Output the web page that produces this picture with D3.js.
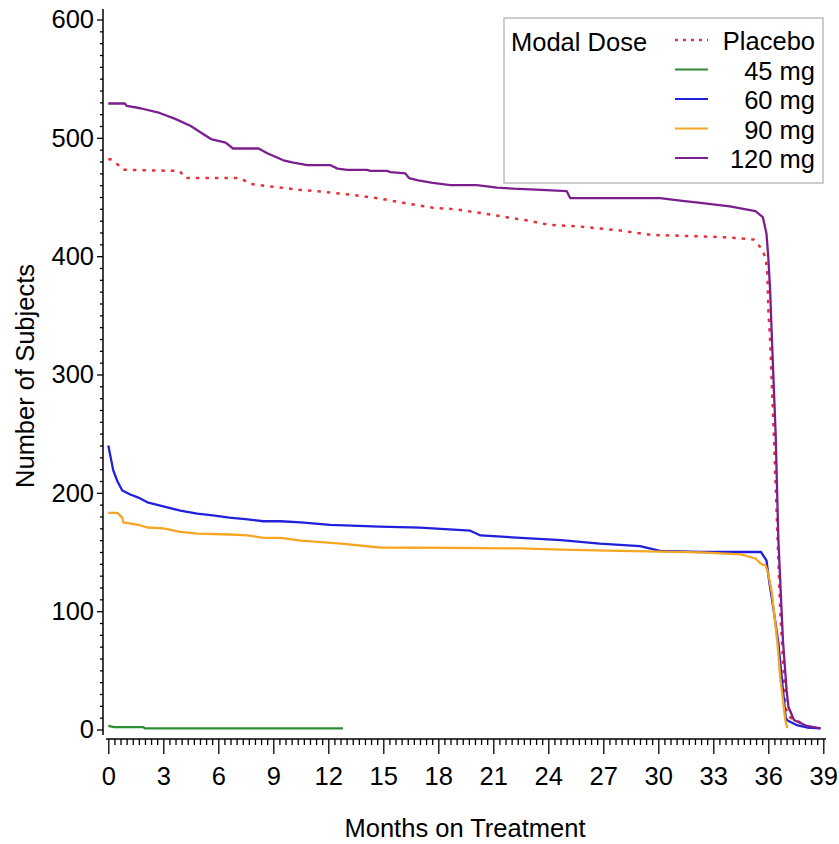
<!DOCTYPE html>
<html>
<head>
<meta charset="utf-8">
<script src="https://cdn.jsdelivr.net/npm/d3@7"></script>
<style>
  html, body { margin: 0; padding: 0; background: #fff; }
  svg text { font-family: "Liberation Sans", Arial, sans-serif; fill: #000; }
</style>
</head>
<body>
<svg id="chart" width="839" height="844"></svg>
<script>
// ---------- data ----------
const seriesNames = ["Placebo", "45 mg", "60 mg", "90 mg", "120 mg"];
const xTickLabels = [0, 3, 6, 9, 12, 15, 18, 21, 24, 27, 30, 33, 36, 39];
const yTickLabels = [0, 100, 200, 300, 400, 500, 600];

const placeboMonths = [0, 0.1, 0.55, 0.8, 3.9, 4.2, 7.2, 7.75, 8.8, 10.5, 11.6, 13.2, 14.7, 15.4, 16.3, 17.7, 19.0, 20.5, 21.8, 22.9, 24.0, 25.75, 27.9, 29.6, 31.75, 33.9, 35.2, 35.6, 35.85, 35.95, 36.0, 36.1, 36.3, 36.65, 36.95, 37.2, 38.0];
const placeboCounts = [482, 482, 477, 473, 472, 466, 466, 461, 459, 456, 454.6, 452, 449, 447, 444.5, 441, 439.5, 436, 432.7, 430, 426.6, 425, 421.7, 418, 417, 415.8, 414, 407, 399, 385, 356, 329, 250, 100, 18, 10, 4];

const mg45Months = [0, 0.3, 1.9, 2.0, 12.8];
const mg45Counts = [3, 2, 2, 1, 1];

const mg60Months = [0, 0.27, 0.49, 0.76, 1.2, 1.64, 2.13, 3.0, 3.93, 4.85, 5.7, 6.6, 7.6, 8.45, 9.4, 10.5, 12.1, 14.8, 17.0, 19.75, 20.3, 22.5, 24.7, 26.8, 29.0, 30.1, 32.3, 35.6, 35.9, 36.05, 36.3, 36.55, 36.75, 36.95, 37.05, 37.6, 38.1, 38.85];
const mg60Counts = [240, 219, 210, 202, 198.6, 196, 192, 188.5, 185, 182.5, 181, 179, 177.5, 176, 176, 175, 173, 171.5, 170.6, 168, 164, 162, 160, 157, 155, 151, 150, 150, 143, 125, 100, 73, 41, 10, 7.6, 3.4, 1.7, 1];

const mg90Months = [0, 0.5, 0.76, 0.82, 1.64, 2.13, 3.0, 3.93, 4.85, 6.65, 7.6, 8.45, 9.4, 10.5, 12.7, 14.8, 18.7, 22.5, 24.7, 27.9, 32.3, 34.5, 35.3, 35.6, 35.85, 36.0, 36.2, 36.3, 36.5, 36.65, 36.8, 36.93, 37.04];
const mg90Counts = [183, 183, 179, 175, 173, 170.7, 170, 167, 165.6, 164.8, 164, 162, 162, 159.7, 157, 153.8, 153.5, 153, 152, 151, 149.6, 148, 144.5, 140, 138.6, 131.8, 115, 100.6, 72.7, 44, 24.5, 7.6, 1];

const mg120Months = [0, 0.9, 1.0, 1.75, 2.8, 3.65, 4.5, 5.0, 5.6, 6.4, 6.8, 8.2, 8.67, 9.55, 10.1, 10.86, 12.1, 12.5, 13.04, 14.1, 14.3, 15.2, 15.4, 16.2, 16.4, 16.9, 17.7, 18.66, 20.1, 21.2, 22.1, 23.6, 25.0, 25.2, 30.1, 31.2, 32.3, 33.9, 35.3, 35.7, 35.9, 36.0, 36.1, 36.2, 36.4, 36.55, 36.8, 37.0, 37.1, 37.4, 38.1, 38.85];
const mg120Counts = [529, 529, 527, 525, 521, 516, 510, 505, 499, 496, 491, 491, 487, 481, 479, 477, 477, 474, 473, 473, 472, 472, 471, 470, 466, 464, 462, 460, 460, 458, 457, 456, 455, 449, 449, 447, 445, 442, 438, 433, 419, 399, 371, 329, 250, 160, 75, 33, 19, 8, 3, 1];

const seriesColors = ["#e8303a", "#2e8b37", "#2020dd", "#f5a623", "#7b1f8e"];
const seriesDash = ["3.5,6", null, null, null, null];

// ---------- layout ----------
const svg = d3.select("#chart");
const x = d3.scaleLinear().domain([0, 39]).range([108.3, 823.3]);
const y = d3.scaleLinear().domain([0, 600]).range([729.5, 19.5]);
const xAxisY = 739;
const yAxisX = 103;
const FS = 25.5;
const FF = "'Liberation Sans', Arial, sans-serif";

const series = [
  [placeboMonths, placeboCounts],
  [mg45Months, mg45Counts],
  [mg60Months, mg60Counts],
  [mg90Months, mg90Counts],
  [mg120Months, mg120Counts]
].map((s, i) => ({
  name: seriesNames[i],
  color: seriesColors[i],
  dash: seriesDash[i],
  pts: s[0].map((m, j) => [m, s[1][j]])
}));

// ---------- y axis ----------
const yMinor = d3.range(0, 601, 10).filter(v => v % 100 !== 0);
const yAx = svg.append("g").attr("transform", `translate(${yAxisX},0)`);
yAx.call(d3.axisLeft(y).tickValues(yMinor).tickSize(3).tickSizeOuter(0).tickFormat(""));
yAx.select(".domain").remove();
const yAxMaj = svg.append("g").attr("transform", `translate(${yAxisX},0)`);
yAxMaj.call(d3.axisLeft(y).tickValues(yTickLabels).tickSize(6).tickPadding(3).tickSizeOuter(0).tickFormat(d3.format("d")));
yAxMaj.select(".domain").remove();
yAxMaj.selectAll("text").style("font-size", FS + "px").style("font-family", FF);
svg.selectAll(".tick line").attr("stroke", "#000").attr("stroke-width", 1.3);
svg.append("line").attr("x1", yAxisX).attr("x2", yAxisX).attr("y1", 9).attr("y2", 735)
  .attr("stroke", "#000").attr("stroke-width", 1.5);

// ---------- x axis ----------
const xMinor = d3.range(0, 118).map(i => i / 3).filter((v, i) => i % 9 !== 0);
const xAx = svg.append("g").attr("transform", `translate(0,${xAxisY})`);
xAx.call(d3.axisBottom(x).tickValues(xMinor).tickSize(6).tickSizeOuter(0).tickFormat(""));
xAx.select(".domain").remove();
const xAxMaj = svg.append("g").attr("transform", `translate(0,${xAxisY})`);
xAxMaj.call(d3.axisBottom(x).tickValues(xTickLabels).tickSize(15).tickPadding(13).tickSizeOuter(0).tickFormat(d3.format("d")));
xAxMaj.select(".domain").remove();
xAxMaj.selectAll("text").style("font-size", FS + "px").style("font-family", FF);
svg.selectAll(".tick line").attr("stroke", "#000").attr("stroke-width", 1.3);
svg.append("line").attr("x1", 106).attr("x2", 826).attr("y1", xAxisY).attr("y2", xAxisY)
  .attr("stroke", "#000").attr("stroke-width", 1.5);

// ---------- axis labels ----------
svg.append("text").attr("x", 465).attr("y", 837).attr("text-anchor", "middle")
  .style("font-size", FS + "px").text("Months on Treatment");
svg.append("text").attr("transform", "translate(34,376) rotate(-90)").attr("text-anchor", "middle")
  .style("font-size", FS + "px").text("Number of Subjects");

// ---------- lines ----------
const line = d3.line().x(d => x(d[0])).y(d => y(d[1]));
svg.append("g").selectAll("path").data(series).join("path")
  .attr("d", d => line(d.pts))
  .attr("fill", "none")
  .attr("stroke", d => d.color)
  .attr("stroke-width", d => d.dash ? 2.5 : 2.3)
  .attr("stroke-dasharray", d => d.dash)
  .attr("stroke-linejoin", "round");

// ---------- legend ----------
const lg = svg.append("g");
lg.append("rect").attr("x", 504).attr("y", 18).attr("width", 319).attr("height", 165)
  .attr("fill", "#fff").attr("stroke", "#bdbdbd").attr("stroke-width", 1.5);
lg.append("text").attr("x", 511).attr("y", 51).style("font-size", FS + "px").text("Modal Dose");
const rows = lg.selectAll("g.row").data(series).join("g").attr("class", "row")
  .attr("transform", (d, i) => `translate(0,${40 + i * 29.5})`);
rows.append("line").attr("x1", 675).attr("x2", 708).attr("y1", 0).attr("y2", 0)
  .attr("stroke", d => d.color).attr("stroke-width", d => d.dash ? 2.4 : 2.2)
  .attr("stroke-dasharray", d => d.dash ? "3,5" : null);
rows.append("text").attr("x", 815).attr("y", 10).attr("text-anchor", "end")
  .style("font-size", FS + "px").text(d => d.name);
</script>
</body>
</html>
